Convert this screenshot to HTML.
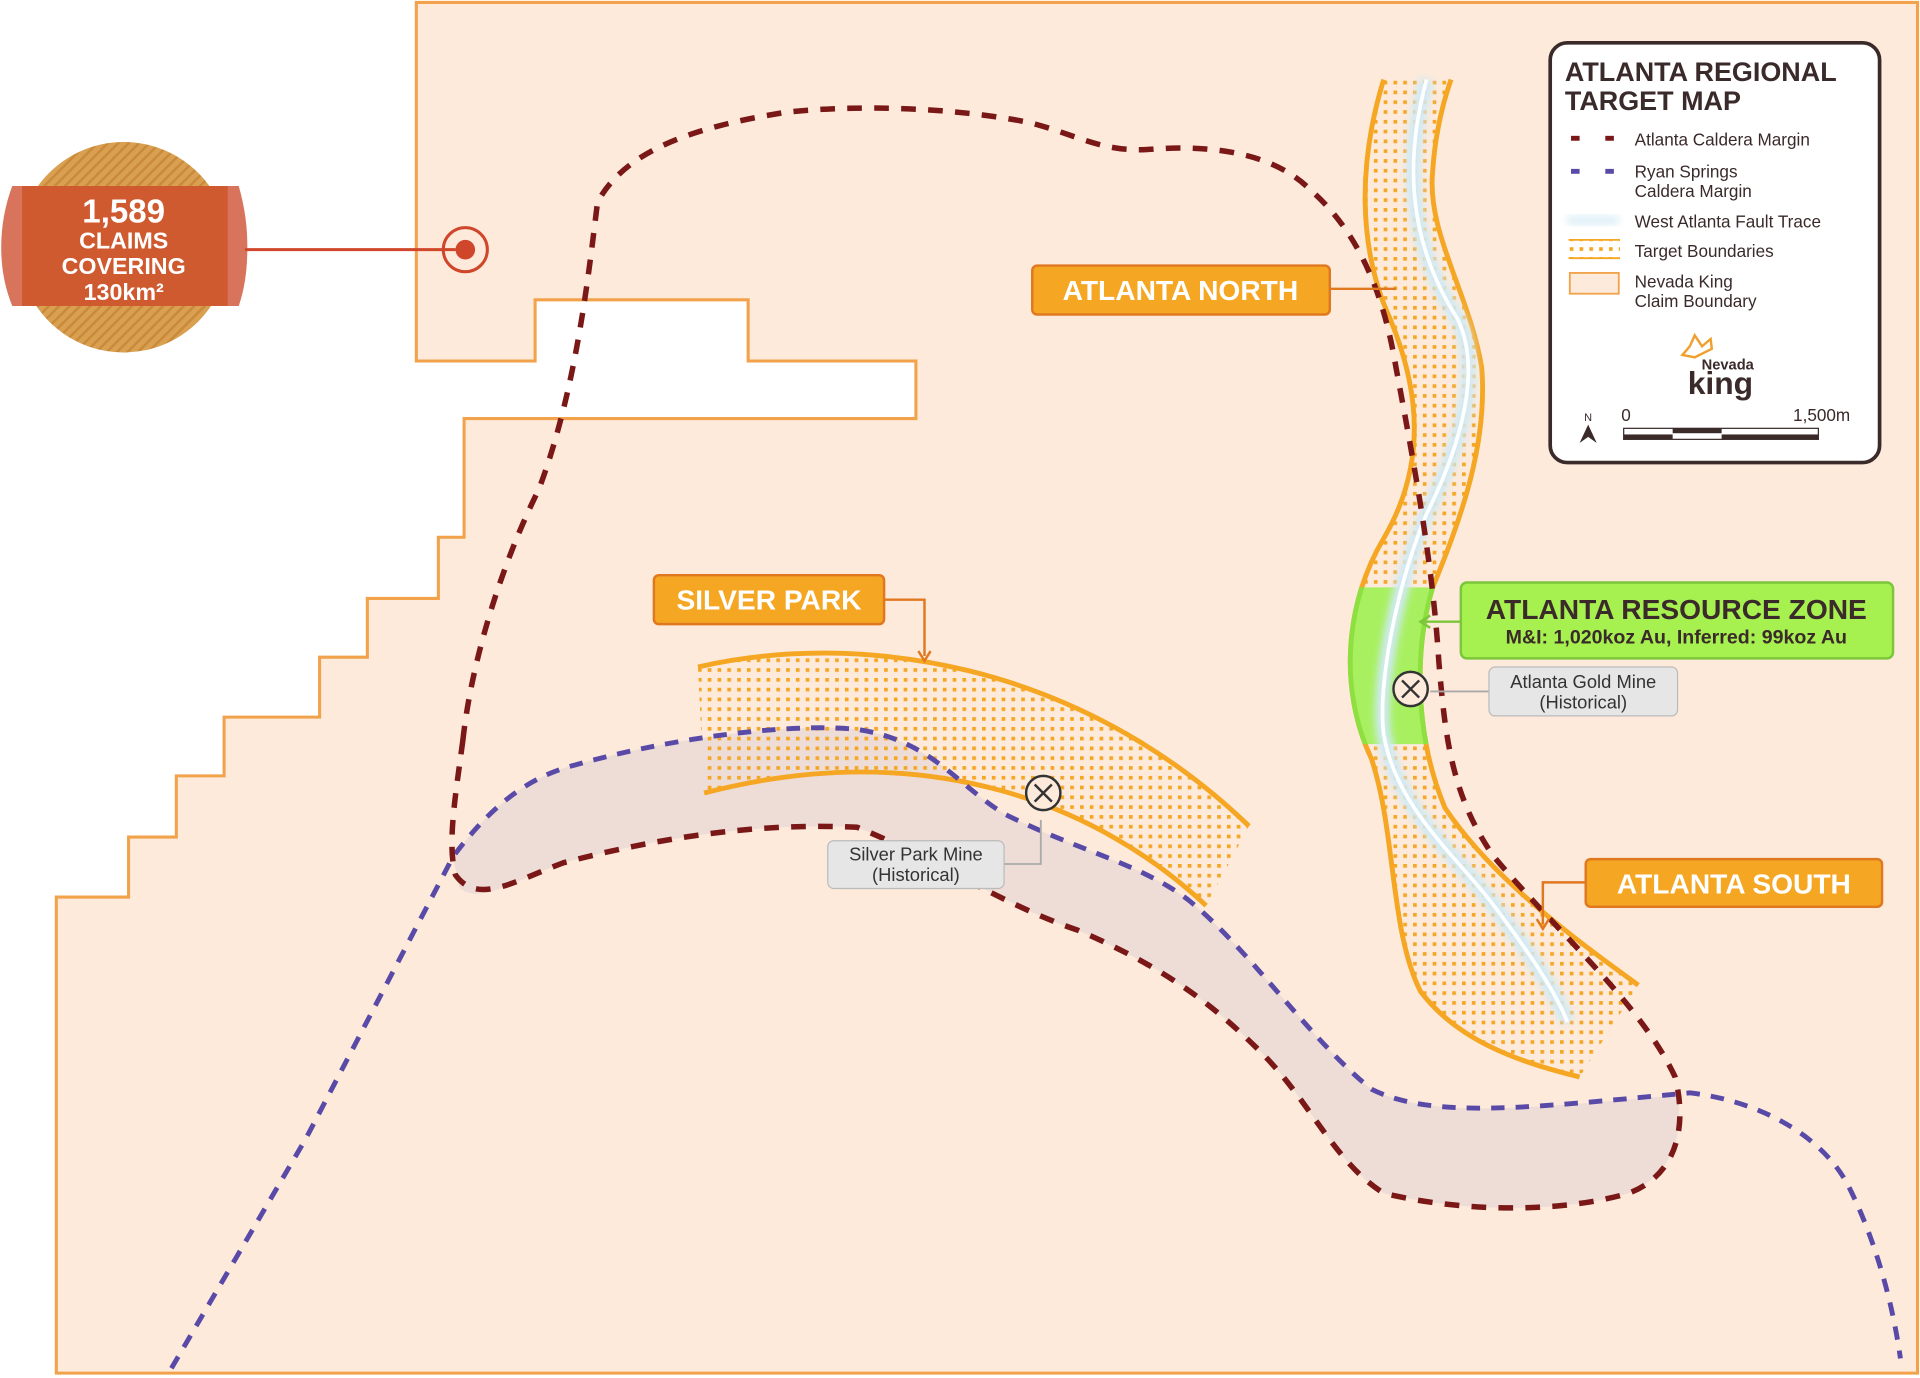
<!DOCTYPE html>
<html><head><meta charset="utf-8"><style>
html,body{margin:0;padding:0;background:#fff;}
svg{display:block;font-family:"Liberation Sans",sans-serif;}
</style></head><body>
<svg width="1920" height="1378" viewBox="0 0 1568 1126" preserveAspectRatio="none">
<defs>
<pattern id="dots" width="8" height="8" patternUnits="userSpaceOnUse">
<rect x="2" y="2" width="3" height="3" fill="#f5a623"/>
</pattern>
<pattern id="hatch" width="6" height="6" patternUnits="userSpaceOnUse" patternTransform="rotate(45)">
<rect width="6" height="6" fill="#d8a050"/><rect width="2" height="6" fill="#c98a3a"/>
</pattern>
<clipPath id="green"><rect x="1080" y="480" width="120" height="128"/></clipPath>
<filter id="glow"><feGaussianBlur stdDeviation="3"/></filter>
</defs>
<rect width="1568" height="1126" fill="#fff"/>
<!-- claim boundary -->
<path d="M340,2 L1566,2 L1566,1122 L46,1122 L46,733 L105,733 L105,684 L144,684 L144,634 L183,634 L183,586 L261,586 L261,537 L300,537 L300,489 L358,489 L358,439 L379,439 L379,342 L748,342 L748,295 L611,295 L611,245 L437,245 L437,295 L340,295 Z" fill="#fdeadb" stroke="#f2a24a" stroke-width="2.5"/>
<!-- shaded band -->
<path d="M370,700 C400,660 430,635 470,625 C540,605 640,590 700,596 C760,605 780,640 820,665 C880,695 930,705 970,735 C1020,775 1070,850 1120,890 C1170,915 1250,905 1370,895 C1375,930 1365,960 1330,975 C1280,990 1200,992 1130,975 C1090,950 1070,900 1030,860 C990,820 950,790 880,760 C820,740 760,700 700,676 C620,672 540,684 460,705 C420,720 390,740 375,725 Z" fill="#eeddd6"/>
<!-- silver park target -->
<path d="M570,545 C700,515 880,540 1020,675 L985,740 C900,660 760,600 575,648 Z" fill="url(#dots)"/>
<path d="M570,545 C700,515 880,540 1020,675" fill="none" stroke="#f5a623" stroke-width="4"/>
<path d="M575,648 C760,600 900,660 985,740" fill="none" stroke="#f5a623" stroke-width="4"/>
<!-- atlanta target -->
<path id="atl" d="M1130,65 C1110,130 1108,200 1135,260 C1160,320 1165,380 1130,440 C1100,490 1092,560 1120,620 C1140,680 1135,760 1160,810 C1190,850 1240,868 1290,880 L1338,805 C1290,770 1220,720 1180,660 C1155,600 1155,530 1170,480 C1195,420 1215,360 1210,300 C1200,240 1165,190 1170,140 C1172,110 1178,85 1185,65 Z" fill="url(#dots)"/>
<path d="M1130,65 C1110,130 1108,200 1135,260 C1160,320 1165,380 1130,440 C1100,490 1092,560 1120,620 C1140,680 1135,760 1160,810 C1190,850 1240,868 1290,880" fill="none" stroke="#f5a623" stroke-width="4"/>
<path d="M1185,65 C1178,85 1172,110 1170,140 C1165,190 1200,240 1210,300 C1215,360 1195,420 1170,480 C1155,530 1155,600 1180,660 C1220,720 1290,770 1338,805" fill="none" stroke="#f5a623" stroke-width="4"/>
<g clip-path="url(#green)">
<path d="M1130,65 C1110,130 1108,200 1135,260 C1160,320 1165,380 1130,440 C1100,490 1092,560 1120,620 C1140,680 1135,760 1160,810 C1190,850 1240,868 1290,880 L1338,805 C1290,770 1220,720 1180,660 C1155,600 1155,530 1170,480 C1195,420 1215,360 1210,300 C1200,240 1165,190 1170,140 C1172,110 1178,85 1185,65 Z" fill="#a8f060" stroke="#8ee040" stroke-width="4"/>
</g>
<!-- fault trace -->
<path d="M1165,65 C1150,120 1145,190 1190,260 C1210,300 1195,360 1165,420 C1140,480 1125,560 1130,600 C1140,660 1190,700 1220,740 C1250,780 1270,810 1280,835" fill="none" stroke="#cfeaf5" stroke-width="12" filter="url(#glow)"/>
<path d="M1165,65 C1150,120 1145,190 1190,260 C1210,300 1195,360 1165,420 C1140,480 1125,560 1130,600 C1140,660 1190,700 1220,740 C1250,780 1270,810 1280,835" fill="none" stroke="#ffffff" stroke-width="3"/>
<!-- Ryan Springs -->
<path d="M140,1118 L250,930 L370,700 C400,660 430,635 470,625 C540,605 640,590 700,596 C760,605 780,640 820,665 C880,695 930,705 970,735 C1020,775 1070,850 1120,890 C1170,915 1250,905 1380,893 C1440,900 1490,930 1510,970 C1530,1010 1545,1060 1552,1110" fill="none" stroke="#5a4aa8" stroke-width="4" stroke-dasharray="11 9"/>
<!-- Atlanta caldera -->
<path d="M378,605 C385,540 410,460 440,400 C470,320 480,230 488,165 C510,125 560,105 640,92 C700,85 780,88 840,100 C880,110 900,125 940,122 C990,118 1040,125 1070,155 C1110,190 1130,240 1140,300 C1155,380 1170,460 1175,540 C1180,600 1185,650 1220,700 C1270,760 1340,820 1368,880 C1378,920 1370,960 1330,975 C1280,990 1200,992 1130,975 C1090,950 1070,900 1030,860 C990,820 950,790 880,760 C820,740 760,700 700,676 C620,672 540,684 460,705 C420,720 390,740 372,715 C365,690 372,650 378,605" fill="none" stroke="#7a1818" stroke-width="4.5" stroke-dasharray="12 10"/>
<!-- left circle -->
<circle cx="101" cy="202" r="86" fill="url(#hatch)"/>
<path d="M10,152 L195,152 C200,170 202,185 202,202 C202,220 200,235 195,250 L10,250 C4,235 1,220 1,202 C1,185 4,168 10,152 Z" fill="#d9745c"/>
<rect x="18" y="152" width="168" height="98" fill="#d05a30"/>
<text x="101" y="182" text-anchor="middle" font-weight="bold" font-size="27" fill="#fff">1,589</text>
<text x="101" y="203" text-anchor="middle" font-weight="bold" font-size="19" fill="#fff">CLAIMS</text>
<text x="101" y="224" text-anchor="middle" font-weight="bold" font-size="19" fill="#fff">COVERING</text>
<text x="101" y="245" text-anchor="middle" font-weight="bold" font-size="19" fill="#fff">130km²</text>
<line x1="200" y1="204" x2="372" y2="204" stroke="#d0462a" stroke-width="2.5"/>
<circle cx="380" cy="204" r="18" fill="none" stroke="#d0462a" stroke-width="2.5"/>
<circle cx="380" cy="204" r="8" fill="#d0462a"/>
<!-- labels -->
<line x1="1086" y1="236" x2="1140" y2="236" stroke="#e07820" stroke-width="2"/>
<rect x="843" y="217" width="243" height="40" rx="4" fill="#f5a623" stroke="#e07820" stroke-width="2"/>
<text x="964" y="245" text-anchor="middle" font-weight="bold" font-size="23" fill="#fff">ATLANTA NORTH</text>
<path d="M722,490 L755,490 L755,536" fill="none" stroke="#e07820" stroke-width="2"/>
<path d="M750,532 L755,540 L760,532" fill="none" stroke="#e07820" stroke-width="2"/>
<rect x="534" y="470" width="188" height="40" rx="4" fill="#f5a623" stroke="#e07820" stroke-width="2"/>
<text x="628" y="498" text-anchor="middle" font-weight="bold" font-size="23" fill="#fff">SILVER PARK</text>
<line x1="1193" y1="508" x2="1162" y2="508" stroke="#7bc63a" stroke-width="2"/>
<path d="M1168,503 L1160,508 L1168,513" fill="none" stroke="#7bc63a" stroke-width="2"/>
<rect x="1193" y="476" width="353" height="62" rx="5" fill="#a6f050" stroke="#7bc63a" stroke-width="2"/>
<text x="1369" y="506" text-anchor="middle" font-weight="bold" font-size="23" fill="#3a2a2a">ATLANTA RESOURCE ZONE</text>
<text x="1369" y="526" text-anchor="middle" font-weight="bold" font-size="16" fill="#3a2a2a">M&amp;I: 1,020koz Au, Inferred: 99koz Au</text>
<path d="M1295,721 L1260,721 L1260,755" fill="none" stroke="#e07820" stroke-width="2"/>
<path d="M1255,751 L1260,759 L1265,751" fill="none" stroke="#e07820" stroke-width="2"/>
<rect x="1295" y="702" width="242" height="39" rx="4" fill="#f5a623" stroke="#e07820" stroke-width="2"/>
<text x="1416" y="730" text-anchor="middle" font-weight="bold" font-size="23" fill="#fff">ATLANTA SOUTH</text>
<!-- mines -->
<path d="M820,706 L850,706 L850,670" fill="none" stroke="#aaa" stroke-width="1.5"/>
<circle cx="852" cy="648" r="14" fill="#fdeadb" stroke="#333" stroke-width="2"/>
<path d="M845,641 L859,655 M859,641 L845,655" stroke="#333" stroke-width="2"/>
<rect x="676" y="687" width="144" height="39" rx="5" fill="#e6e6e6" stroke="#bbb"/>
<text x="748" y="703" text-anchor="middle" font-size="15" fill="#333">Silver Park Mine</text>
<text x="748" y="720" text-anchor="middle" font-size="15" fill="#333">(Historical)</text>
<line x1="1168" y1="565" x2="1216" y2="565" stroke="#aaa" stroke-width="1.5"/>
<circle cx="1152" cy="563" r="14" fill="#fdeadb" stroke="#333" stroke-width="2"/>
<path d="M1145,556 L1159,570 M1159,556 L1145,570" stroke="#333" stroke-width="2"/>
<rect x="1216" y="545" width="154" height="40" rx="5" fill="#e6e6e6" stroke="#bbb"/>
<text x="1293" y="562" text-anchor="middle" font-size="15" fill="#333">Atlanta Gold Mine</text>
<text x="1293" y="579" text-anchor="middle" font-size="15" fill="#333">(Historical)</text>
<!-- legend -->
<rect x="1266" y="35" width="269" height="343" rx="14" fill="#fff" stroke="#3a2a2a" stroke-width="3"/>
<text x="1278" y="66" font-weight="bold" font-size="22" fill="#3a2a2a">ATLANTA REGIONAL</text>
<text x="1278" y="90" font-weight="bold" font-size="22" fill="#3a2a2a">TARGET MAP</text>
<g font-size="14" fill="#3a2a2a">
<rect x="1283" y="111" width="7" height="4" fill="#7a1818"/><rect x="1311" y="111" width="7" height="4" fill="#7a1818"/>
<text x="1335" y="119">Atlanta Caldera Margin</text>
<rect x="1283" y="138" width="7" height="4" fill="#5a4aa8"/><rect x="1311" y="138" width="7" height="4" fill="#5a4aa8"/>
<text x="1335" y="145">Ryan Springs</text><text x="1335" y="161">Caldera Margin</text>
<rect x="1280" y="176" width="42" height="8" fill="#dff0f8" filter="url(#glow)"/>
<text x="1335" y="186">West Atlanta Fault Trace</text>
<rect x="1281" y="196" width="42" height="15" fill="url(#dots)"/>
<line x1="1281" y1="196" x2="1323" y2="196" stroke="#f5a623" stroke-width="1.5"/><line x1="1281" y1="211" x2="1323" y2="211" stroke="#f5a623" stroke-width="1.5"/>
<text x="1335" y="210">Target Boundaries</text>
<rect x="1282" y="223" width="40" height="17" fill="#fdeadb" stroke="#f2a24a" stroke-width="1.5"/>
<text x="1335" y="235">Nevada King</text><text x="1335" y="251">Claim Boundary</text>
</g>
<path d="M1374,290 L1380,283 L1384,274 L1390,283 L1397,277 L1398,285 L1384,292 Z" fill="none" stroke="#f0a030" stroke-width="2"/>
<text x="1411" y="302" text-anchor="middle" font-weight="bold" font-size="12" fill="#3a2a2a">Nevada</text>
<text x="1405" y="322" text-anchor="middle" font-weight="bold" font-size="26" fill="#3a2a2a">king</text>
<text x="1297" y="344" text-anchor="middle" font-size="9" fill="#3a2a2a">N</text>
<path d="M1297,347 L1290,362 L1297,357 L1304,362 Z" fill="#3a2a2a"/>
<text x="1324" y="344" font-size="14" fill="#3a2a2a">0</text>
<text x="1511" y="344" text-anchor="end" font-size="14" fill="#3a2a2a">1,500m</text>
<rect x="1326" y="350" width="159" height="9" fill="#fff" stroke="#3a2a2a" stroke-width="1"/>
<rect x="1326" y="355" width="40" height="4" fill="#3a2a2a"/><rect x="1366" y="350" width="40" height="4" fill="#3a2a2a"/><rect x="1406" y="355" width="79" height="4" fill="#3a2a2a"/>
</svg>
</body></html>
